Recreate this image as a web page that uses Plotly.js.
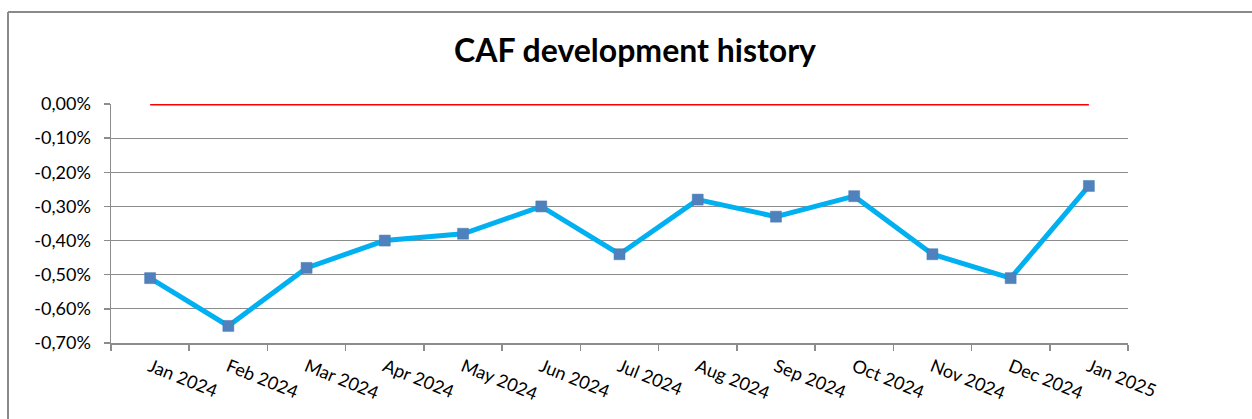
<!DOCTYPE html>
<html>
<head>
<meta charset="utf-8">
<script src="https://cdn.plot.ly/plotly-3.0.1.min.js"></script>
<style>
  html, body { margin: 0; padding: 0; background: #ffffff; }
  #chart { width: 1252px; height: 419px; }
</style>
</head>
<body>
<div id="chart"></div>
<script>
// ---- data ----
const months = ["Jan 2024", "Feb 2024", "Mar 2024", "Apr 2024", "May 2024", "Jun 2024",
                "Jul 2024", "Aug 2024", "Sep 2024", "Oct 2024", "Nov 2024", "Dec 2024", "Jan 2025"];
const cafValues = [-0.51, -0.65, -0.48, -0.40, -0.38, -0.30, -0.44, -0.28, -0.33, -0.27, -0.44, -0.51, -0.24];
const referenceValues = [0, 0, 0, 0, 0, 0, 0, 0, 0, 0, 0, 0, 0];
const yTickVals = [0, -0.1, -0.2, -0.3, -0.4, -0.5, -0.6, -0.7];
const yTickText = ["0,00%", "-0,10%", "-0,20%", "-0,30%", "-0,40%", "-0,50%", "-0,60%", "-0,70%"];

// ---- layout geometry (pixels) ----
const W = 1252, H = 419;
const M = { l: 111, r: 124, t: 104, b: 76 };
const pw = W - M.l - M.r, ph = H - M.t - M.b;
const px2x = p => (p - M.l) / pw;
const py2y = p => (H - M.b - p) / ph;

const FONT = "Lato, 'Open Sans', 'Liberation Sans', sans-serif";
const GRID = "#8c8c8c";

const traces = [
  {
    x: months, y: referenceValues, type: "scatter", mode: "lines",
    line: { color: "#ff0000", width: 2.8 },
    hoverinfo: "skip", cliponaxis: false, showlegend: false
  },
  {
    x: months, y: cafValues, type: "scatter", mode: "lines+markers",
    line: { color: "#00b0f0", width: 5 },
    marker: { symbol: "square", size: 11, color: "#4f81bd", line: { color: "#4a7ab4", width: 0.5 } },
    hoverinfo: "skip", cliponaxis: false, showlegend: false
  }
];

const layout = {
  width: W, height: H,
  margin: M,
  paper_bgcolor: "#ffffff", plot_bgcolor: "#ffffff",
  font: { family: FONT, size: 18, color: "#000000" },
  title: {
    text: "<b>CAF development history</b>",
    font: { family: FONT, size: 32, color: "#000000" },
    x: 635 / W, xanchor: "center", xref: "container",
    y: 1 - 51 / H, yanchor: "middle", yref: "container"
  },
  xaxis: {
    type: "category",
    range: [-0.5, months.length - 0.5],
    showgrid: false, zeroline: false,
    showline: true, linecolor: GRID, linewidth: 1.5,
    ticks: "outside", tickson: "boundaries", ticklen: 6, tickcolor: GRID, tickwidth: 1.5,
    tickangle: 22,
    ticklabelstandoff: 5,
    tickfont: { family: FONT, size: 18, color: "#000000" },
    fixedrange: true
  },
  yaxis: {
    range: [-0.7, 0],
    tickvals: yTickVals, ticktext: yTickText,
    showgrid: true, gridcolor: GRID, gridwidth: 1.2,
    zeroline: false,
    showline: true, linecolor: GRID, linewidth: 1.5,
    ticks: "outside", ticklen: 6, tickcolor: GRID, tickwidth: 1.5,
    ticklabelstandoff: 9,
    tickfont: { family: FONT, size: 18, color: "#000000" },
    fixedrange: true
  },
  shapes: [
    { type: "line", xref: "paper", yref: "paper", layer: "above",
      x0: px2x(8), x1: px2x(8), y0: py2y(12), y1: py2y(H + 5),
      line: { color: "#8a8a8a", width: 2 } },
    { type: "line", xref: "paper", yref: "paper", layer: "above",
      x0: px2x(8), x1: px2x(W + 5), y0: py2y(12), y1: py2y(12),
      line: { color: "#8a8a8a", width: 2 } }
  ],
  showlegend: false,
  hovermode: false
};

Plotly.newPlot("chart", traces, layout, { displayModeBar: false, staticPlot: true });
</script>
</body>
</html>
